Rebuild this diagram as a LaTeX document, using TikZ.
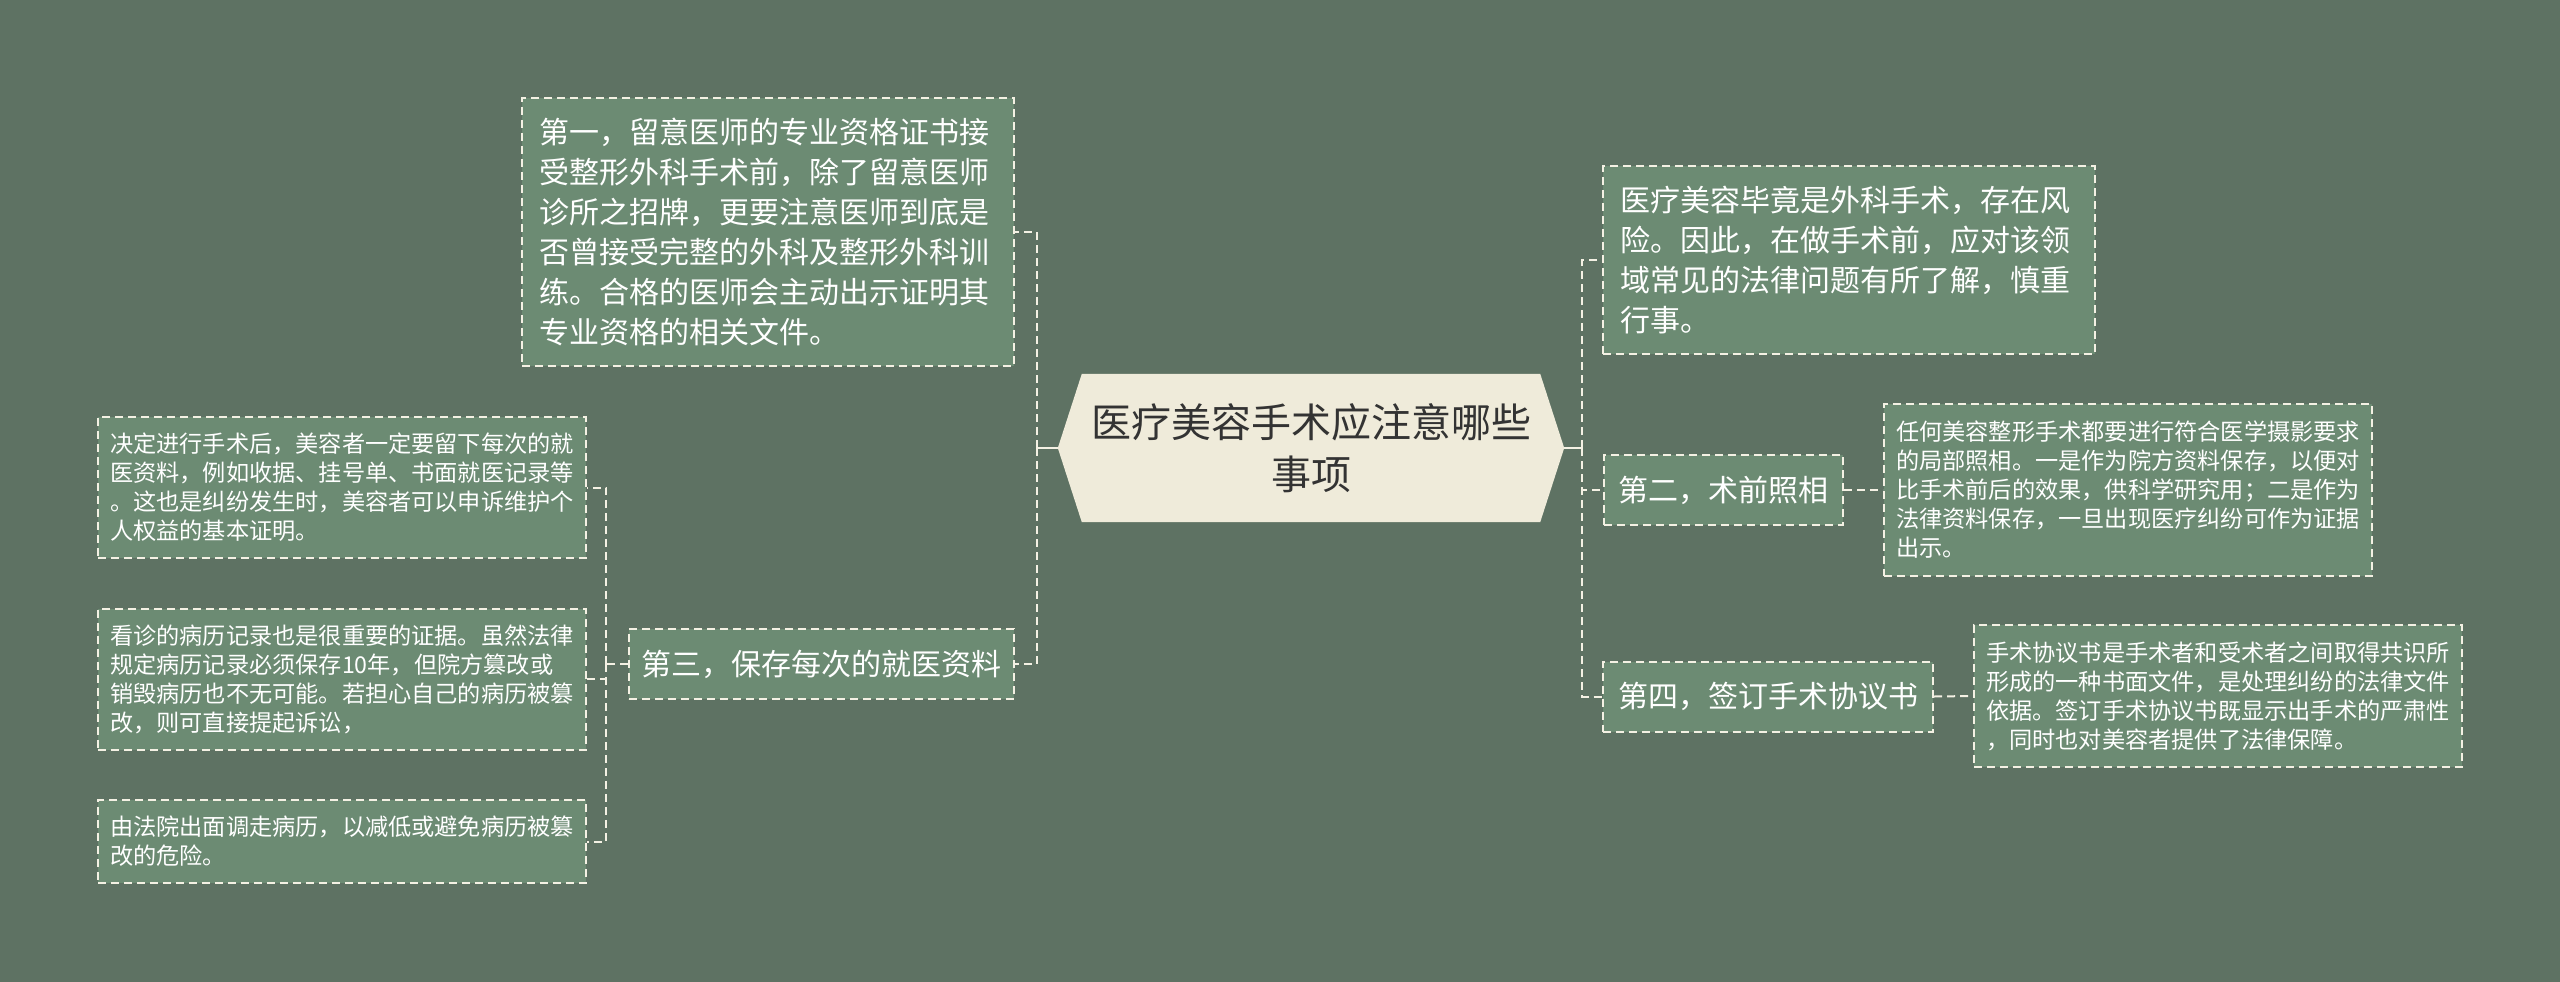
\documentclass[tikz,border=0pt]{standalone}
\usepackage{fontspec}
\newfontfamily\cjk{Noto Sans CJK SC}
\usetikzlibrary{backgrounds}
\definecolor{bgc}{HTML}{5E7263}
\definecolor{boxfill}{HTML}{6C8B73}
\definecolor{cream}{HTML}{EFEBDA}
\definecolor{edgec}{HTML}{F4F1E4}
\definecolor{ink}{HTML}{333333}
\tikzset{
  box/.style={draw=edgec, line width=2pt, dash pattern=on 8pt off 5pt, fill=boxfill, text=white, anchor=center, inner ysep=0pt},
  leaf/.style={box, align=left, font=\cjk\fontsize{23.2}{29}\selectfont, inner xsep=12pt, text width=464pt},
  bigbox/.style={box, align=left, font=\cjk\fontsize{30}{40}\selectfont, inner xsep=17pt, text width=458pt},
  midbox/.style={box, align=center, font=\cjk\fontsize{30}{40}\selectfont, inner xsep=0pt, minimum height=70pt},
  conn/.style={draw=edgec, line width=2pt, dash pattern=on 8pt off 5pt},
  stub/.style={draw=edgec, line width=2pt},
  centre/.style={font=\cjk\fontsize{40}{52}\selectfont, text=ink, align=center, minimum width=506pt, minimum height=148pt, inner sep=0pt}
}
\begin{document}
\begin{tikzpicture}[x=1pt,y=-1pt]
\useasboundingbox (0,0) rectangle (2560,982);

\node[centre] (c) at (1311,448) {医疗美容手术应注意哪些\\事项};

\node[bigbox, minimum height=268pt] (A) at (768,232) {第一，留意医师的专业资格证书接\\受整形外科手术前，除了留意医师\\诊所之招牌，更要注意医师到底是\\否曾接受完整的外科及整形外科训\\练。合格的医师会主动出示证明其\\专业资格的相关文件。};
\node[midbox, minimum width=385pt] (B) at (821.5,664) {第三，保存每次的就医资料};

\node[leaf, minimum height=141pt] (L1) at (342,487.5) {决定进行手术后，美容者一定要留下每次的就\\医资料，例如收据、挂号单、书面就医记录等\\。这也是纠纷发生时，美容者可以申诉维护个\\人权益的基本证明。};
\node[leaf, minimum height=141pt] (L2) at (342,679) {看诊的病历记录也是很重要的证据。虽然法律\\规定病历记录必须保存10年，但院方篡改或\\销毁病历也不无可能。若担心自己的病历被篡\\改，则可直接提起诉讼，};
\node[leaf, minimum height=83pt] (L3) at (342,841.5) {由法院出面调走病历，以减低或避免病历被篡\\改的危险。};

\node[bigbox, minimum height=188pt] (R1) at (1849,260) {医疗美容毕竟是外科手术，存在风\\险。因此，在做手术前，应对该领\\域常见的法律问题有所了解，慎重\\行事。};
\node[midbox, minimum width=239pt] (R2) at (1723.5,490) {第二，术前照相};
\node[midbox, minimum width=330pt] (R3) at (1768,696.5) {第四，签订手术协议书};

\node[leaf, minimum height=172pt] (R2L) at (2128,490) {任何美容整形手术都要进行符合医学摄影要求\\的局部照相。一是作为院方资料保存，以便对\\比手术前后的效果，供科学研究用；二是作为\\法律资料保存，一旦出现医疗纠纷可作为证据\\出示。};
\node[leaf, minimum height=142pt] (R3L) at (2218,696) {手术协议书是手术者和受术者之间取得共识所\\形成的一种书面文件，是处理纠纷的法律文件\\依据。签订手术协议书既显示出手术的严肃性\\，同时也对美容者提供了法律保障。};

% connectors
\draw[stub] (c.west) -- ++(-21,0) coordinate (lj);
\draw[conn] (lj) |- (A.east);
\draw[conn] (lj) |- (B.east);
\draw[stub] (c.east) -- ++(18,0) coordinate (rj);
\draw[conn] (rj) |- (R1.west);
\draw[conn] (rj) |- (R2.west);
\draw[conn] (rj) |- (R3.west);
\draw[conn] (B.west) -- ++(-22,0) coordinate (bj);
\draw[conn] (bj) |- (L1.east);
\draw[conn] (bj) |- (L2.east);
\draw[conn] (bj) |- (L3.east);
\draw[conn] (R2.east) -- (R2L.west);
\draw[conn] (R3.east) -- (R3L.west);

\begin{scope}[on background layer]
\fill[bgc] (0,0) rectangle (2560,982);
\fill[cream] (c.west) -- ([xshift=24pt]c.north west) -- ([xshift=-24pt]c.north east) -- (c.east) -- ([xshift=-24pt]c.south east) -- ([xshift=24pt]c.south west) -- cycle;
\end{scope}
\end{tikzpicture}
\end{document}
